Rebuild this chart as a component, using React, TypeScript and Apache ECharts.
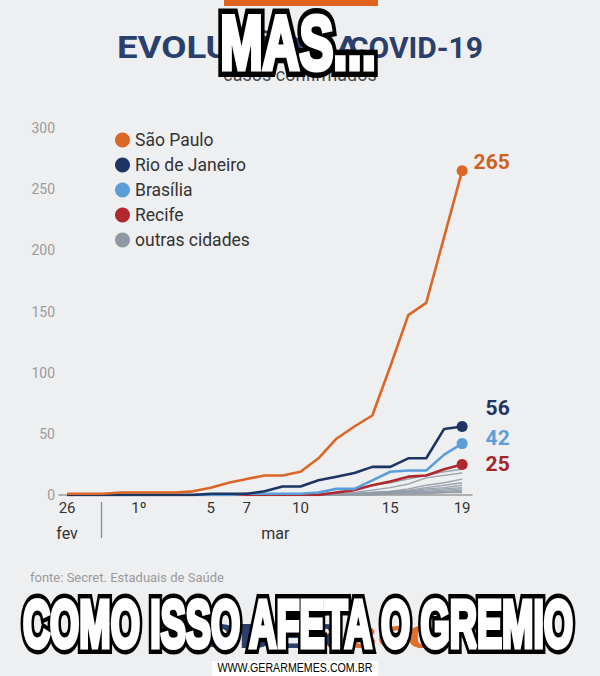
import React, { useEffect, useRef } from "react";
import * as echarts from "echarts";

// day index 0 = 26 fev ... 22 = 19 mar
const dayIndex = Array.from({ length: 23 }, (_, i) => i);

const saoPaulo = [1, 1, 1, 2, 2, 2, 2, 3, 6, 10, 13, 16, 16, 19, 30, 46, 56, 65, 105, 147, 157, 211, 265];
const rioDeJaneiro = [0, 0, 0, 0, 0, 0, 0, 0, 1, 1, 1, 3, 7, 7, 12, 15, 18, 23, 23, 30, 30, 54, 56];
const brasilia = [0, 0, 0, 0, 0, 0, 0, 0, 0, 0, 1, 1, 1, 1, 2, 5, 5, 12, 19, 20, 20, 33, 42];
const recife = [0, 0, 0, 0, 0, 0, 0, 0, 0, 0, 0, 0, 0, 0, 0, 2, 4, 8, 11, 15, 16, 21, 25];
const outrasCidades = [
  [0, 0, 0, 0, 0, 0, 0, 0, 0, 0, 0, 0, 0, 0, 1, 2, 4, 8, 10, 13, 16, 19, 21],
  [0, 0, 0, 0, 0, 0, 0, 0, 0, 0, 0, 0, 0, 0, 0, 1, 2, 4, 6, 9, 14, 16, 18],
  [0, 0, 0, 0, 0, 0, 0, 0, 0, 0, 0, 0, 0, 0, 0, 0, 1, 2, 3, 5, 8, 10, 13],
  [0, 0, 0, 0, 0, 0, 0, 0, 0, 0, 0, 0, 0, 0, 1, 1, 1, 2, 3, 4, 6, 8, 10],
  [0, 0, 0, 0, 0, 0, 0, 0, 0, 0, 0, 0, 0, 0, 0, 0, 1, 1, 2, 3, 5, 6, 8],
  [0, 0, 0, 0, 0, 0, 0, 0, 0, 0, 0, 0, 0, 0, 0, 0, 0, 1, 2, 3, 4, 5, 6],
  [0, 0, 0, 0, 0, 0, 0, 0, 0, 0, 0, 0, 0, 0, 0, 1, 1, 2, 2, 3, 3, 4, 5],
  [0, 0, 0, 0, 0, 0, 0, 0, 0, 0, 0, 0, 0, 0, 0, 0, 0, 0, 1, 1, 2, 3, 4],
  [0, 0, 0, 0, 0, 0, 0, 0, 0, 0, 0, 0, 0, 0, 0, 0, 1, 1, 1, 2, 2, 2, 3],
  [0, 0, 0, 0, 0, 0, 0, 0, 0, 0, 0, 0, 0, 0, 0, 0, 0, 0, 1, 1, 1, 2, 2],
];

const legendNames = ["São Paulo", "Rio de Janeiro", "Brasília", "Recife", "outras cidades"];
const xTickDays = [0, 4, 8, 10, 13, 18, 22];
const xTickLabels = ["26", "1º", "5", "7", "10", "15", "19"];
const monthPos = [0, 11.6];
const monthLabels = ["fev", "mar"];
const monthSeparator = [1.9];

const FONT = "Roboto, 'Noto Sans', sans-serif";
const MEME_FONT = `"Liberation Sans", Arial, sans-serif`;

function toPairs(values: number[]) {
  return values.map((v, i) => [dayIndex[i], v]);
}

function mainSeries(name: string, values: number[], color: string, labelColor: string, offset: number[]) {
  const last = values.length - 1;
  return {
    name,
    type: "line",
    data: toPairs(values).map((p, i) =>
      i === last
        ? {
            value: p,
            label: {
              show: true,
              position: "right",
              offset,
              formatter: String(values[last]),
              color: labelColor,
              fontSize: 21,
              fontWeight: "bold",
              fontFamily: FONT,
            },
          }
        : { value: p }
    ),
    symbol: "circle",
    symbolSize: (_v: any, params: any) => (params.dataIndex === last ? 11 : 0),
    showAllSymbol: true,
    lineStyle: { color, width: 2.6 },
    itemStyle: { color },
    z: 5,
    silent: true,
  };
}

function memeText(text: string, x: number, y: number, size: number, scaleX: number, outline: number) {
  return [
    {
      type: "text",
      x,
      y,
      scaleX,
      style: {
        text,
        font: `bold ${size}px ${MEME_FONT}`,
        fill: "#000000",
        stroke: "#000000",
        lineWidth: outline,
        textAlign: "center",
        textVerticalAlign: "middle",
      },
      z: 100,
    },
    {
      type: "text",
      x,
      y,
      scaleX,
      style: {
        text,
        font: `bold ${size}px ${MEME_FONT}`,
        fill: "#ffffff",
        stroke: "#ffffff",
        lineWidth: 5,
        textAlign: "center",
        textVerticalAlign: "middle",
      },
      z: 101,
    },
  ];
}

export default function App() {
  const ref = useRef<HTMLDivElement>(null);

  useEffect(() => {
    if (!ref.current) return;
    const chart = echarts.init(ref.current, null, { renderer: "svg" });

    const grays = outrasCidades.map((vals) => ({
      name: "outras cidades",
      type: "line",
      data: toPairs(vals),
      symbol: "none",
      lineStyle: { color: "#929ca6", width: 1.4, opacity: 0.9 },
      itemStyle: { color: "#8f99a4" },
      z: 3,
      silent: true,
    }));

    const option: any = {
      animation: false,
      backgroundColor: "#eeeff1",
      textStyle: { fontFamily: FONT },
      grid: { left: 59, right: 128, top: 128, bottom: 181, containLabel: false },
      legend: {
        data: legendNames,
        orient: "vertical",
        left: 110,
        top: 126,
        icon: "circle",
        itemWidth: 15,
        itemHeight: 15,
        itemGap: 7,
        selectedMode: false,
        textStyle: { fontSize: 17.5, color: "#333", fontFamily: FONT, lineHeight: 18 },
      },
      xAxis: [
        {
          type: "value",
          min: -0.45,
          max: 22.55,
          splitLine: { show: false },
          axisLine: { show: true, lineStyle: { color: "#9a9a9a", width: 1.5 } },
          axisTick: { show: false },
          axisLabel: {
            customValues: xTickDays,
            formatter: (v: number) => {
              const i = xTickDays.indexOf(Math.round(v));
              return i >= 0 ? xTickLabels[i] : "";
            },
            color: "#333",
            fontSize: 15,
            margin: 5,
            fontFamily: FONT,
          },
        },
        {
          type: "value",
          min: -0.45,
          max: 22.55,
          position: "bottom",
          offset: 7,
          splitLine: { show: false },
          axisLine: { show: false },
          axisTick: {
            show: true,
            customValues: monthSeparator,
            length: 36,
            lineStyle: { color: "#8a8a8a", width: 1.3 },
          },
          axisLabel: {
            customValues: monthPos,
            formatter: (v: number) => {
              const i = monthPos.findIndex((m) => Math.abs(m - v) < 0.01);
              return i >= 0 ? monthLabels[i] : "";
            },
            color: "#333",
            fontSize: 16,
            margin: 23,
            fontFamily: FONT,
          },
        },
      ],
      yAxis: {
        type: "value",
        min: 0,
        max: 300,
        interval: 50,
        splitLine: { show: false },
        axisLine: { show: false },
        axisTick: { show: false },
        axisLabel: { color: "#9b9b9b", fontSize: 14, margin: 4, fontFamily: FONT },
      },
      series: [
        ...grays,
        mainSeries("Recife", recife, "#b0282d", "#a3262b", [13, 0]),
        mainSeries("Brasília", brasilia, "#5b9dd8", "#5d9fd6", [13, -6]),
        mainSeries("Rio de Janeiro", rioDeJaneiro, "#1d3562", "#1f3560", [13, -18]),
        mainSeries("São Paulo", saoPaulo, "#dc6626", "#d0621f", [1, -9]),
      ],
      graphic: [
        { type: "rect", shape: { x: 224, y: 0, width: 154, height: 6 }, style: { fill: "#e0621c" }, z: 10 },
        {
          type: "text",
          x: 117,
          y: 47,
          scaleX: 1.18,
          style: { text: "EVOLUÇÃO DA", font: `bold 31px ${FONT}`, fill: "#2a3f6b", textAlign: "left", textVerticalAlign: "middle" },
          z: 10,
        },
        {
          type: "text",
          x: 483,
          y: 47,
          style: { text: "COVID-19", font: `bold 30px ${FONT}`, fill: "#2a3f6b", textAlign: "right", textVerticalAlign: "middle" },
          z: 10,
        },
        {
          type: "text",
          x: 300,
          y: 74,
          style: { text: "casos confirmados", font: `18px ${FONT}`, fill: "#4a4a4a", textAlign: "center", textVerticalAlign: "middle" },
          z: 10,
        },
        {
          type: "text",
          x: 30,
          y: 577,
          style: { text: "fonte: Secret. Estaduais de Saúde", font: `13px ${FONT}`, fill: "#9a9a9a", textAlign: "left", textVerticalAlign: "middle" },
          z: 10,
        },
        {
          type: "text",
          x: 165,
          y: 653,
          scaleY: 0.62,
          style: { text: "PODER", font: `900 55px ${FONT}`, fill: "#2a3f6b", textAlign: "left", textVerticalAlign: "bottom" },
          z: 50,
        },
        {
          type: "text",
          x: 347,
          y: 653,
          scaleY: 0.62,
          style: { text: "360", font: `900 52px ${FONT}`, fill: "#e0702a", textAlign: "left", textVerticalAlign: "bottom" },
          z: 50,
        },
        ...memeText("MAS...", 298, 43, 76, 0.67, 16),
        ...memeText("COMO ISSO AFETA O GREMIO", 298, 624, 66, 0.57, 14),
        { type: "rect", shape: { x: 212, y: 661, width: 166, height: 15 }, style: { fill: "#ffffff" }, z: 110 },
        {
          type: "text",
          x: 295,
          y: 668,
          scaleX: 0.82,
          style: {
            text: "WWW.GERARMEMES.COM.BR",
            font: `13px ${MEME_FONT}`,
            fill: "#000000",
            textAlign: "center",
            textVerticalAlign: "middle",
          },
          z: 111,
        },
      ],
    };

    chart.setOption(option);
    return () => chart.dispose();
  }, []);

  return (
    <div
      ref={ref}
      style={{ position: "fixed", left: 0, top: 0, width: 600, height: 676, margin: 0 }}
    />
  );
}
